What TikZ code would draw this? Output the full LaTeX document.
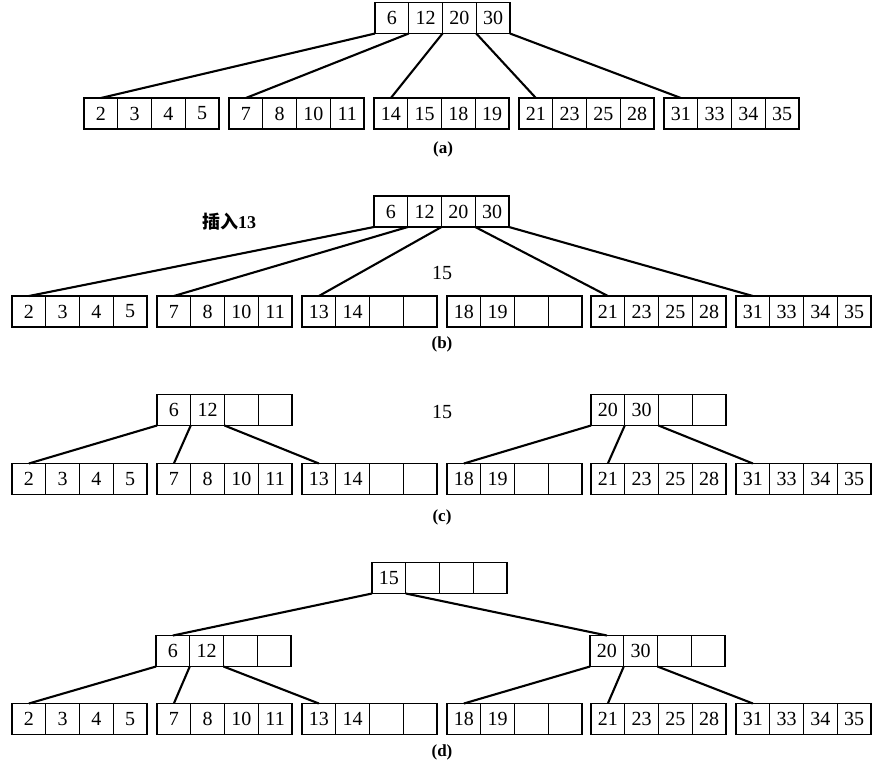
\documentclass[tikz,border=0pt]{standalone}
\usepackage{fontspec}
\setmainfont{Liberation Serif}
\newfontfamily\cjk{Noto Sans CJK SC}
\tikzset{
  cell/.style={draw, line width=1pt, minimum width=33.75pt, minimum height=31pt,
    inner sep=0pt, outer sep=0pt, font=\fontsize{20}{20}\selectfont},
  frame/.style={line width=1.8pt},
  link/.style={line width=2.1pt},
  caption/.style={font=\fontsize{17}{17}\selectfont\bfseries},
  plain/.style={font=\fontsize{20}{20}\selectfont}
}
\def\cw{33.75}
% one B-tree page: name, left x, centre y, four keys
\newcommand{\bpage}[4]{%
  \foreach \k [count=\i] in {#4}
    \node[cell] (#1-\i) at ({#2+(\i-0.5)*\cw},#3) {\k};
  \draw[frame] (#1-1.north west) rectangle (#1-4.south east);
}
\begin{document}
\begin{tikzpicture}[x=1pt, y=-1pt]
\useasboundingbox (0,0) rectangle (878,764);

% (a)
\bpage{ra}{375}{18}{6,12,20,30}
\bpage{la1}{84}{113.5}{2,3,4,5}
\bpage{la2}{229}{113.5}{7,8,10,11}
\bpage{la3}{374}{113.5}{14,15,18,19}
\bpage{la4}{519}{113.5}{21,23,25,28}
\bpage{la5}{664}{113.5}{31,33,34,35}
\draw[link] (ra-1.south west) -- (la1-1.north);
\draw[link] (ra-1.south east) -- (la2-1.north);
\draw[link] (ra-2.south east) -- (la3-1.north);
\draw[link] (ra-3.south east) -- (la4-1.north);
\draw[link] (ra-4.south east) -- (la5-1.north);
\node[caption] (capa) at (443,149) {(a)};

% (b)
\bpage{rb}{374}{211.5}{6,12,20,30}
\bpage{lb1}{12}{311.5}{2,3,4,5}
\bpage{lb2}{157}{311.5}{7,8,10,11}
\bpage{lb3}{302}{311.5}{13,14,{},{}}
\bpage{lb4}{447}{311.5}{18,19,{},{}}
\bpage{lb5}{591}{311.5}{21,23,25,28}
\bpage{lb6}{736}{311.5}{31,33,34,35}
\draw[link] (rb-1.south west) -- (lb1-1.north);
\draw[link] (rb-1.south east) -- (lb2-1.north);
\draw[link] (rb-2.south east) -- (lb3-1.north);
\draw[link] (rb-3.south east) -- (lb5-1.north);
\draw[link] (rb-4.south east) -- (lb6-1.north);
\node[font=\fontsize{18}{18}\selectfont\bfseries] (ins) at (229,222) {{\cjk 插入}13};
\node[plain] (midb) at (442,273) {15};
\node[caption] (capb) at (442,344) {(b)};

% (c)
\bpage{rcl}{157}{410}{6,12,{},{}}
\bpage{rcr}{591}{410}{20,30,{},{}}
\bpage{lc1}{12}{479}{2,3,4,5}
\bpage{lc2}{157}{479}{7,8,10,11}
\bpage{lc3}{302}{479}{13,14,{},{}}
\bpage{lc4}{447}{479}{18,19,{},{}}
\bpage{lc5}{591}{479}{21,23,25,28}
\bpage{lc6}{736}{479}{31,33,34,35}
\draw[link] (rcl-1.south west) -- (lc1-1.north);
\draw[link] (rcl-1.south east) -- (lc2-1.north);
\draw[link] (rcl-2.south east) -- (lc3-1.north);
\draw[link] (rcr-1.south west) -- (lc4-1.north);
\draw[link] (rcr-1.south east) -- (lc5-1.north);
\draw[link] (rcr-2.south east) -- (lc6-1.north);
\node[plain] (midc) at (442,412) {15};
\node[caption] (capc) at (442,517) {(c)};

% (d)
\bpage{rd}{372}{578}{15,{},{},{}}
\bpage{rdl}{156}{651}{6,12,{},{}}
\bpage{rdr}{590}{651}{20,30,{},{}}
\bpage{ld1}{12}{719}{2,3,4,5}
\bpage{ld2}{157}{719}{7,8,10,11}
\bpage{ld3}{302}{719}{13,14,{},{}}
\bpage{ld4}{447}{719}{18,19,{},{}}
\bpage{ld5}{591}{719}{21,23,25,28}
\bpage{ld6}{736}{719}{31,33,34,35}
\draw[link] (rd-1.south west) -- (rdl-1.north);
\draw[link] (rd-1.south east) -- (rdr-1.north);
\draw[link] (rdl-1.south west) -- (ld1-1.north);
\draw[link] (rdl-1.south east) -- (ld2-1.north);
\draw[link] (rdl-2.south east) -- (ld3-1.north);
\draw[link] (rdr-1.south west) -- (ld4-1.north);
\draw[link] (rdr-1.south east) -- (ld5-1.north);
\draw[link] (rdr-2.south east) -- (ld6-1.north);
\node[caption] (capd) at (442,752) {(d)};
\end{tikzpicture}
\end{document}
